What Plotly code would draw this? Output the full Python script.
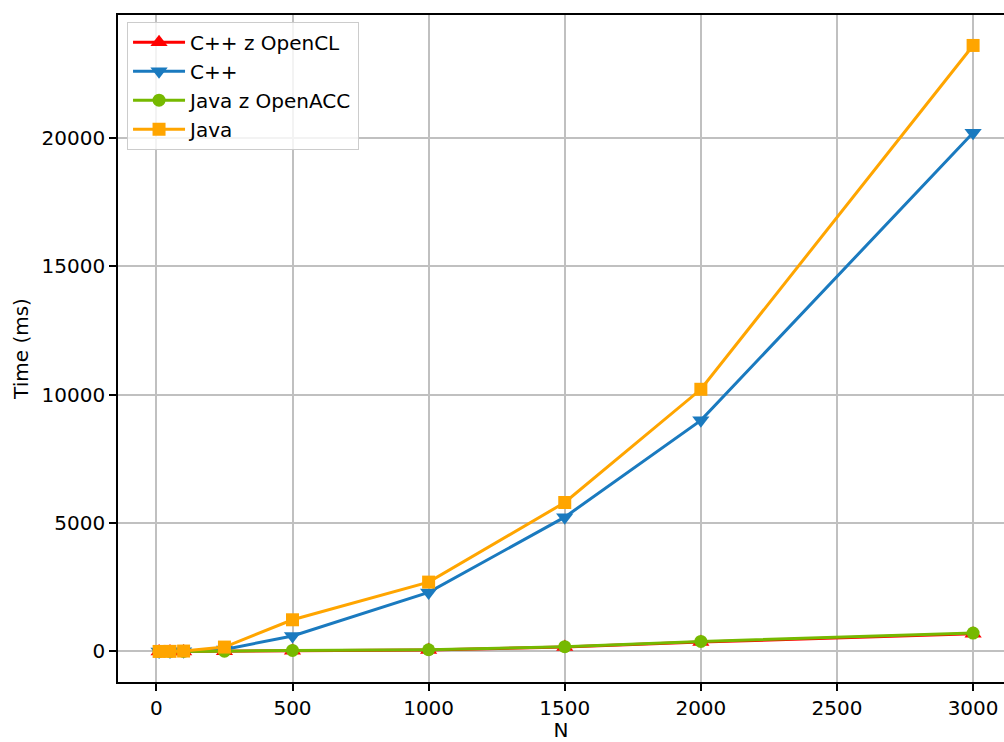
import plotly.graph_objects as go

N = [10, 50, 100, 250, 500, 1000, 1500, 2000, 3000]
cpp_opencl = [0, 1, 2, 8, 30, 55, 170, 366, 685]
cpp = [0, 2, 8, 80, 600, 2300, 5230, 9000, 20200]
java_openacc = [0, 1, 3, 10, 39, 66, 185, 389, 716]
java = [0, 3, 15, 170, 1233, 2700, 5800, 10210, 23600]

x_ticks = [0, 500, 1000, 1500, 2000, 2500, 3000]
y_ticks = [0, 5000, 10000, 15000, 20000]

series = [
    ("C++ z OpenCL", cpp_opencl, "#ff0000", "triangle-up", 15),
    ("C++", cpp, "#1a7abf", "triangle-down", 15),
    ("Java z OpenACC", java_openacc, "#76b900", "circle", 13),
    ("Java", java, "#ffa500", "square", 13),
]

FONT = "DejaVu Sans"
fig = go.Figure()
for name, ys, color, sym, msize in series:
    fig.add_trace(go.Scatter(
        x=N, y=ys, name=name, mode="lines+markers",
        line=dict(color=color, width=3),
        marker=dict(color=color, symbol=sym, size=msize, line=dict(width=0)),
    ))

fig.update_layout(
    width=1004, height=742,
    margin=dict(l=118, r=0, t=15, b=60, autoexpand=False),
    paper_bgcolor="white", plot_bgcolor="white",
    font=dict(family=FONT, size=20, color="black"),
    showlegend=True,
    legend=dict(
        x=0.0102, y=0.99, xanchor="left", yanchor="top",
        bgcolor="rgba(255,255,255,0.8)", bordercolor="#cccccc", borderwidth=1,
        font=dict(family=FONT, size=20, color="black"),
        tracegroupgap=0, itemwidth=52,
    ),
)
fig.update_xaxes(
    range=[-141, 3113.5], tickvals=x_ticks, ticktext=[str(v) for v in x_ticks],
    showgrid=True, gridcolor="#c0c0c0", gridwidth=1.6, zeroline=False,
    showline=True, linecolor="black", linewidth=1.6, mirror=True,
    ticks="outside", ticklen=7, tickwidth=1.6, tickcolor="black",
    title=dict(text="N", standoff=6, font=dict(family=FONT, size=20)),
    automargin=False,
)
fig.update_yaxes(
    range=[-1190, 24786], tickvals=y_ticks, ticktext=[str(v) for v in y_ticks],
    showgrid=True, gridcolor="#c0c0c0", gridwidth=1.6, zeroline=False,
    showline=True, linecolor="black", linewidth=1.6, mirror=False,
    ticks="outside", ticklen=7, tickwidth=1.6, tickcolor="black",
    title=dict(text="Time (ms)", standoff=8, font=dict(family=FONT, size=20)),
    automargin=False,
)
fig.write_html("out.html")
